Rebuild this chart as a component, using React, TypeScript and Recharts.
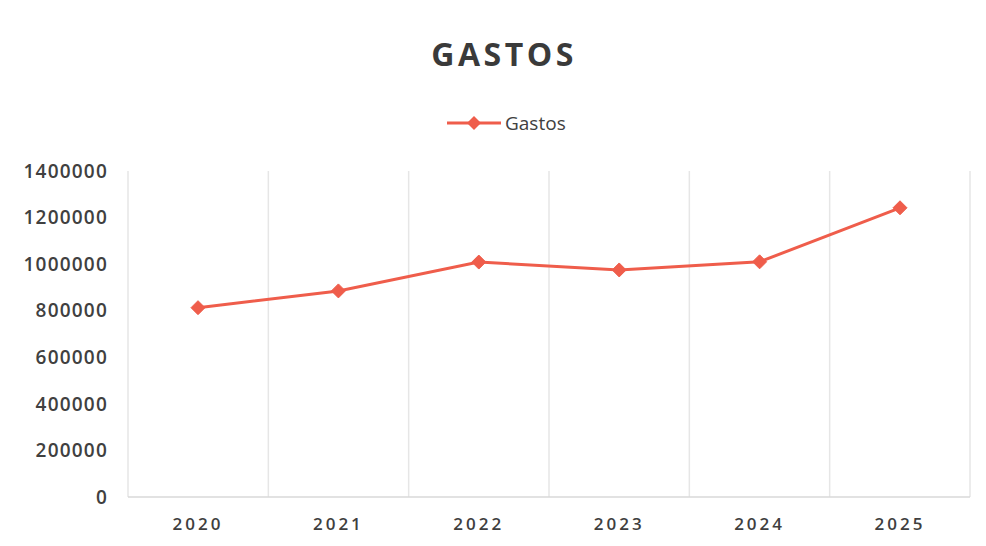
import { LineChart, Line, XAxis, YAxis, CartesianGrid } from 'recharts'

const years = ['2020', '2021', '2022', '2023', '2024', '2025']
const gastos = [813000, 885000, 1009000, 975000, 1010000, 1242000]
const yTicks = [0, 200000, 400000, 600000, 800000, 1000000, 1200000, 1400000]

const data = years.map((year, i) => ({ year, gastos: gastos[i] }))

const LINE_COLOR = '#EF5D4B'
const FONT = '"Open Sans", sans-serif'

function Diamond(props: any) {
  const { cx, cy } = props
  if (cx == null || cy == null) return null
  const r = 7
  return (
    <path
      d={`M${cx},${cy - r}L${cx + r},${cy}L${cx},${cy + r}L${cx - r},${cy}Z`}
      fill={LINE_COLOR}
      stroke={LINE_COLOR}
      strokeWidth={1}
    />
  )
}

export default function App() {
  return (
    <div
      style={{
        position: 'fixed',
        left: 0,
        top: 0,
        width: 986,
        height: 546,
        background: '#fff',
        fontFamily: FONT,
      }}
    >
      <div
        style={{
          position: 'absolute',
          top: 32,
          left: 0,
          width: 1008,
          textAlign: 'center',
          fontSize: 32,
          fontWeight: 700,
          letterSpacing: 3.5,
          color: '#3a3a3a',
        }}
      >
        GASTOS
      </div>
      <div
        style={{
          position: 'absolute',
          top: 110,
          left: 447,
          display: 'flex',
          alignItems: 'center',
          fontSize: 19,
          color: '#404040',
        }}
      >
        <svg width={56} height={20}>
          <line x1={0} y1={10} x2={54} y2={10} stroke={LINE_COLOR} strokeWidth={3} />
          <path d="M27,3L34,10L27,17L20,10Z" fill={LINE_COLOR} />
        </svg>
        <span style={{ marginLeft: 2 }}>Gastos</span>
      </div>
      <LineChart
        width={986}
        height={546}
        data={data}
        margin={{ top: 171, right: 16, bottom: 19, left: 0 }}
      >
        <CartesianGrid
          horizontal={false}
          stroke="#E6E6E6"
          strokeWidth={1.5}
          verticalCoordinatesGenerator={({ offset }: any) =>
            Array.from({ length: years.length + 1 }, (_, i) => offset.left + (i * offset.width) / years.length)
          }
        />
        <XAxis
          dataKey="year"
          height={30}
          padding={{ left: 70, right: 70 }}
          axisLine={{ stroke: '#D9D9D9', strokeWidth: 1.5 }}
          tickLine={false}
          tickSize={0}
          tickMargin={21}
          tick={{ fill: '#3f3f3f', fontSize: 17, fontWeight: 600, letterSpacing: 3, fontFamily: FONT }}
        />
        <YAxis
          width={128}
          domain={[0, 1400000]}
          ticks={yTicks}
          axisLine={false}
          tickLine={false}
          tickSize={0}
          tickMargin={20}
          tick={{ fill: '#404040', fontSize: 19, fontWeight: 600, letterSpacing: 1.2, fontFamily: FONT }}
        />
        <Line
          type="linear"
          dataKey="gastos"
          stroke={LINE_COLOR}
          strokeWidth={3}
          dot={<Diamond />}
          activeDot={false}
          isAnimationActive={false}
        />
      </LineChart>
    </div>
  )
}
